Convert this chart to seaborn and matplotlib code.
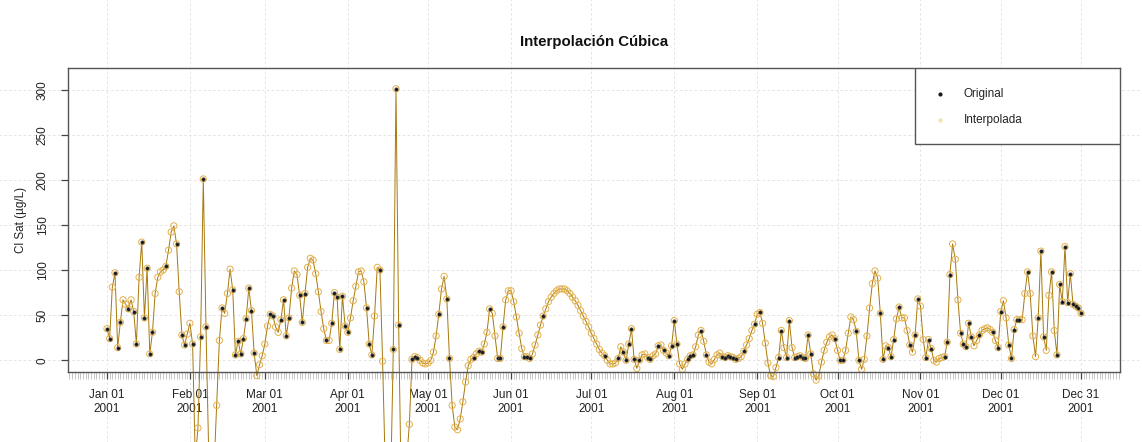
import matplotlib
matplotlib.use("Agg")
import numpy as np
import pandas as pd
import matplotlib.pyplot as plt
import matplotlib.dates as mdates
from matplotlib.patches import Rectangle
import seaborn as sns

# ---- data (daily Cl Sat, µg/L, year 2001) ----
jan = [35, 24, 81, 97, 14, 42, 67, 62, 57, 67, 54, 18, 92, 131, 47, 102, 7, 31, 74, 92,
       98, 100, 104, 122, 142, 149, 129, 76, 28, 17, 29]
feb = [41, 18, -110, -75, 26, 201, 37, -100, -150, -120, -50, 22, 58, 52, 74, 101, 78, 6,
       21, 7, 24, 46, 80, 55, 8, -17, -5, 5]
mar = [18, 38, 51, 49, 37, 31, 45, 67, 27, 47, 80, 99, 95, 72, 42, 74, 103, 113, 111, 96,
       76, 54, 35, 22, 22, 41, 75, 70, 12, 71, 38]
apr = [31, 47, 66, 82, 98, 99, 87, 58, 18, 6, 49, 103, 100, -1, -120, -190, -140, 12, 301,
       39, -150, -170, -110, -71, 1, 4, 3, 0, -3, -4]
may = [-3, 0, 9, 27, 51, 79, 93, 68, 2, -50, -74, -77, -65, -46, -24, -6, 1, 3, 7, 10, 9,
       18, 31, 57, 52, 27, 2, 2, 37, 67, 77]
jun = [77, 65, 48, 30, 13, 4, 4, 2, 7, 17, 28, 39, 49, 57, 65, 70, 74, 77, 79, 79, 79, 77,
       74, 70, 66, 61, 55, 49, 43, 37]
jul = [30, 24, 18, 12, 8, 5, 0, -4, -4, -3, 2, 15, 9, 0, 18, 35, 1, -9, 0, 6, 7, 3, 1, 5,
       7, 16, 17, 11, 8, 5, 16]
aug = [44, 18, -4, -10, -4, 1, 5, 6, 15, 28, 33, 21, 6, -2, -4, 1, 6, 8, 4, 3, 5, 4, 3, 1,
       2, 4, 10, 17, 24, 33, 40]
sep = [51, 53, 41, 19, -3, -17, -18, -8, 3, 33, 14, 3, 44, 14, 3, 4, 5, 3, 2, 28, 7, -15,
       -22, -17, -2, 11, 20, 26, 28, 24]
oct_ = [11, 0, 0, 11, 30, 48, 45, 32, 0, -10, 1, 27, 58, 85, 99, 91, 52, 1, 16, 14, 4, 23,
        46, 59, 47, 47, 33, 17, 9, 28, 68]
nov = [60, 23, 3, 23, 13, 0, -2, 2, 3, 4, 20, 95, 129, 112, 67, 30, 18, 15, 41, 26, 16, 22,
       28, 33, 35, 36, 34, 31, 22, 14]
dec = [54, 66, 47, 17, 2, 34, 45, 45, 45, 74, 98, 74, 27, 4, 47, 121, 26, 11, 72, 98, 33, 6,
       84, 65, 126, 64, 96, 62, 60, 58, 52]

# day-of-year indices (0 = Jan 01) that hold an original measurement
original_days = [0, 1, 3, 4, 5, 8, 10, 11, 13, 14, 15, 16, 17, 22, 26, 28, 29,
                 32, 35, 36, 37, 43, 47, 48, 49, 50, 51, 52, 53, 54, 55,
                 61, 62, 65, 66, 67, 68, 72, 73, 74, 82, 84, 85, 86, 87, 88, 89,
                 90, 97, 98, 99, 102, 107, 108, 109, 114, 115, 116,
                 124, 127, 128, 137, 139, 140, 143, 146, 147, 148,
                 156, 157, 158, 163,
                 186, 191, 193, 194, 195, 196, 197, 199, 202, 203, 206, 208, 210, 211,
                 212, 213, 217, 218, 219, 222, 224, 230, 231, 232, 233, 234, 235, 238, 242,
                 244, 251, 252, 254, 255, 257, 258, 259, 260, 261, 262, 263, 272,
                 274, 275, 280, 281, 289, 290, 292, 293, 294, 296, 300, 302, 303,
                 306, 307, 308, 313, 314, 315, 319, 320, 321, 322, 323, 326, 331, 333,
                 334, 337, 338, 339, 340, 341, 344, 348, 349, 350, 353, 355, 356, 357,
                 358, 359, 360, 361, 362, 363, 364]

tick_dates = ["2001-01-01", "2001-02-01", "2001-03-01", "2001-04-01", "2001-05-01",
              "2001-06-01", "2001-07-01", "2001-08-01", "2001-09-01", "2001-10-01",
              "2001-11-01", "2001-12-01", "2001-12-31"]
tick_labels = ["Jan 01\n2001", "Feb 01\n2001", "Mar 01\n2001", "Apr 01\n2001",
               "May 01\n2001", "Jun 01\n2001", "Jul 01\n2001", "Aug 01\n2001",
               "Sep 01\n2001", "Oct 01\n2001", "Nov 01\n2001", "Dec 01\n2001",
               "Dec 31\n2001"]
y_ticks = [0, 50, 100, 150, 200, 250, 300]

# ---- build frames ----
values = jan + feb + mar + apr + may + jun + jul + aug + sep + oct_ + nov + dec
dates = pd.date_range("2001-01-01", periods=len(values), freq="D")
df = pd.DataFrame({"fecha": dates, "cl": values})
df_orig = df.iloc[original_days]

sns.set_style("white")
plt.rcParams['font.family'] = ['Liberation Sans', 'DejaVu Sans']

W, H = 1142, 442
fig = plt.figure(figsize=(W / 100, H / 100), dpi=100)
L, R, T, B = 68, 1120, 68, 372
ax = fig.add_axes([L / W, 1 - B / H, (R - L) / W, (B - T) / H])

grid_col = '#e3e3e3'
for d in tick_dates:
    ax.axvline(pd.Timestamp(d), ymin=-2, ymax=3, clip_on=False, color=grid_col,
               lw=0.7, ls=(0, (2.5, 2.5)), zorder=0)
for y in y_ticks:
    ax.axhline(y, xmin=-1, xmax=2, clip_on=False, color=grid_col,
               lw=0.7, ls=(0, (2.5, 2.5)), zorder=0)

sns.lineplot(data=df, x="fecha", y="cl", ax=ax, color="#A8780A", lw=0.7,
             estimator=None, errorbar=None, zorder=2)
ax.lines[-1].set_clip_on(False)

sns.scatterplot(data=df, x="fecha", y="cl", ax=ax, s=20, marker='o', zorder=3)
pts = ax.collections[-1]
pts.set_facecolor('none')
pts.set_edgecolor('#E3B04A')
pts.set_linewidth(0.7)
pts.set_clip_on(False)

sns.scatterplot(data=df_orig, x="fecha", y="cl", ax=ax, s=7, marker='o',
                color='#1a1a1a', edgecolor='#666666', linewidth=0.3, zorder=4)
ax.collections[-1].set_clip_on(False)

x0 = pd.Timestamp("2001-01-01") - pd.Timedelta(days=14.56)
x1 = pd.Timestamp("2001-01-01") + pd.Timedelta(days=378.56)
ax.set_xlim(x0, x1)
ax.set_ylim(-13, 324)

ax.set_xticks([pd.Timestamp(d) for d in tick_dates])
ax.set_xticklabels(tick_labels, fontsize=8.5, color='#222222', linespacing=1.25)
ax.xaxis.set_minor_locator(mdates.DayLocator())
ax.tick_params(axis='x', which='major', length=5, width=0.9, color='#444444', pad=7,
               bottom=True)
ax.tick_params(axis='x', which='minor', length=5, width=0.4, color='#999999', bottom=True)

ax.set_yticks(y_ticks)
ax.set_yticklabels([str(v) for v in y_ticks], rotation=90, va='center',
                   fontsize=8.5, color='#222222')
ax.tick_params(axis='y', which='major', length=5, width=0.9, color='#444444', pad=9,
               left=True)

ax.set_xlabel("")
ax.set_ylabel("Cl Sat (µg/L)", fontsize=8.5, color='#222222')
ax.yaxis.set_label_coords(-(L - 27) / (R - L), 0.5)

for s in ax.spines.values():
    s.set_color('#555555')
    s.set_linewidth(1.0)
    s.set_zorder(5)

fig.text((L + R) / 2 / W, 1 - 42 / H, "Interpolación Cúbica", ha='center', va='center',
         fontsize=10.8, fontweight='bold', color='#111111')

# legend box
lx0 = (915 - L) / (R - L)
ly0 = (B - 144) / (B - T)
ax.add_patch(Rectangle((lx0, ly0), 1 - lx0, 1 - ly0, transform=ax.transAxes,
                       facecolor='white', edgecolor='#555555', lw=1.0, zorder=6))
mx = (940 - L) / (R - L)
tx = (964 - L) / (R - L)
y_a = (B - 94) / (B - T)
y_b = (B - 120) / (B - T)
ax.plot([mx], [y_a], marker='o', ms=2.0, color='#1a1a1a', transform=ax.transAxes,
        zorder=7, clip_on=False)
ax.plot([mx], [y_b], marker='o', ms=2.0, color='#F0E2A8', transform=ax.transAxes,
        zorder=7, clip_on=False)
ax.text(tx, y_a, "Original", transform=ax.transAxes, va='center', ha='left',
        fontsize=8.5, color='#222222', zorder=7)
ax.text(tx, y_b, "Interpolada", transform=ax.transAxes, va='center', ha='left',
        fontsize=8.5, color='#222222', zorder=7)

fig.savefig("out.png", dpi=100)
